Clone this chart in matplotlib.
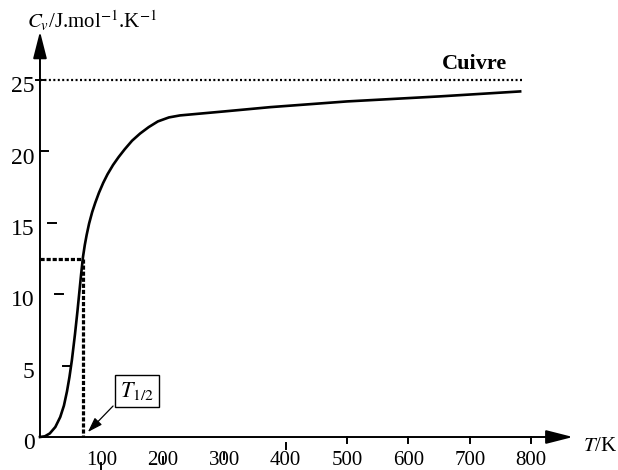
import matplotlib
matplotlib.use('Agg')
import matplotlib.pyplot as plt

plt.rcParams['font.family'] = ['Liberation Serif', 'DejaVu Serif']
plt.rcParams['mathtext.fontset'] = 'stix'

# Cv of copper
T = [0, 8, 16, 25, 33, 39, 44, 48, 52, 57, 61, 64, 67, 70, 73, 76, 80, 85,
     90, 96, 103, 110, 119, 128, 138, 150, 163, 177, 192, 210, 228, 300,
     375, 500, 650, 782]
Cv = [0, 0.05, 0.25, 0.7, 1.4, 2.2, 3.2, 4.2, 5.4, 7.2, 8.8, 10.1, 11.4,
      12.6, 13.45, 14.15, 14.95, 15.75, 16.4, 17.1, 17.8, 18.4, 19.05, 19.6,
      20.15, 20.75, 21.25, 21.7, 22.1, 22.38, 22.52, 22.8, 23.1, 23.5, 23.85,
      24.2]

cv_limit = 25        # Dulong-Petit value
T_limit_end = 785
T_half = 69.5
cv_half = 12.5

x_ticks = [100, 200, 300, 400, 500, 600, 700, 800]
y_ticks = [0, 5, 10, 15, 20, 25]

fig = plt.figure(figsize=(6.18, 4.70), dpi=100)
ax = fig.add_axes([0.0647, 0.0702, 0.8743, 0.8811])
ax.set_xlim(0, 880)
ax.set_ylim(0, 29)
ax.axis('off')

px_x = 880 / 540.3   # kelvin per pixel
px_y = 29 / 414.1    # Cv units per pixel

# axes drawn as arrows
arrow = dict(arrowstyle='-|>,head_length=1.65,head_width=0.42', lw=1.4,
             color='black', shrinkA=0, shrinkB=0, mutation_scale=10)
ax.annotate('', xy=(868, 0), xytext=(0, 0), arrowprops=arrow, annotation_clip=False)
ax.annotate('', xy=(0, 28.4), xytext=(0, 0), arrowprops=arrow, annotation_clip=False)

# x tick marks (the scan has the first ones slipped downwards)
x_drop = [26, 20, 16, 6, 0, 0, 0, 0]
for t, d in zip(x_ticks, x_drop):
    ax.plot([t, t], [-d * px_y, -(d + 6) * px_y], color='black', lw=1.4, clip_on=False)
    ax.text(t, -1.95, str(t), ha='center', va='baseline', fontsize=15)

# y tick marks (slipped to the right for 5, 10, 15)
y_shift = [None, 23, 15, 8, 0, -4]
for v, s in zip(y_ticks, y_shift):
    if s is not None:
        ax.plot([s * px_x, (s + 8) * px_x], [v, v], color='black', lw=1.4, clip_on=False)
    ax.text(-9, v - 0.85, str(v), ha='right', va='baseline', fontsize=17)

# Dulong-Petit limit
ax.plot([0, T_limit_end], [cv_limit, cv_limit], color='black', lw=1.6,
        linestyle=(0, (0.9, 1.1)), clip_on=False)
ax.text(707, 25.75, 'Cuivre', ha='center', va='baseline', fontsize=16, fontweight='bold')

# curve
ax.plot(T, Cv, color='black', lw=1.9, clip_on=False, solid_joinstyle='round')

# T1/2 construction
ax.plot([0, T_half], [cv_half, cv_half], color='black', lw=2.3,
        linestyle=(0, (1.3, 0.6)), clip_on=False)
ax.plot([T_half, T_half], [cv_half, 0], color='black', lw=2.3,
        linestyle=(0, (1.3, 0.6)), clip_on=False)

ax.text(158, 3.2, r'$T_{1/2}$', ha='center', va='center', fontsize=16,
        bbox=dict(boxstyle='square,pad=0.22', facecolor='white', edgecolor='black', lw=1))
ax.annotate('', xy=(78, 0.35), xytext=(119, 2.17),
            arrowprops=dict(arrowstyle='-|>,head_length=0.9,head_width=0.3', lw=0.9,
                            color='black', shrinkA=0, shrinkB=0, mutation_scale=10))

# axis labels
ax.text(-21, 28.6, r'$C_v$/J.mol$^{-1}$.K$^{-1}$', ha='left', va='baseline', fontsize=15)
ax.text(884, -0.98, r'$T$/K', ha='left', va='baseline', fontsize=15)

fig.savefig('out.png', dpi=100)
